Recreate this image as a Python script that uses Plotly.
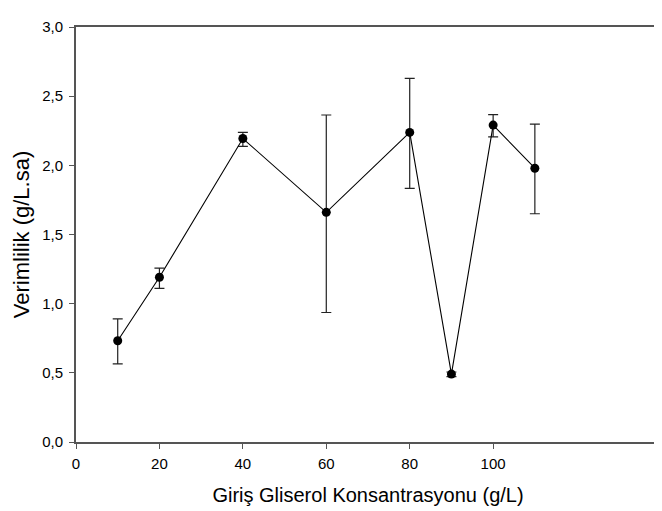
import plotly.graph_objects as go

x_vals = [10, 20, 40, 60, 80, 90, 100, 110]
y_vals = [0.732, 1.191, 2.194, 1.660, 2.238, 0.491, 2.291, 1.979]
y_upper = [0.890, 1.257, 2.238, 2.364, 2.628, 0.506, 2.366, 2.298]
y_lower = [0.565, 1.111, 2.137, 0.936, 1.834, 0.473, 2.206, 1.650]

err_plus = [u - y for u, y in zip(y_upper, y_vals)]
err_minus = [y - l for l, y in zip(y_lower, y_vals)]

x_ticks = [0, 20, 40, 60, 80, 100]
y_ticks = [0.0, 0.5, 1.0, 1.5, 2.0, 2.5, 3.0]

fig = go.Figure()
fig.add_trace(go.Scatter(
    x=x_vals, y=y_vals,
    mode="lines+markers",
    line=dict(color="black", width=1.1),
    marker=dict(color="black", size=9, symbol="circle"),
    error_y=dict(type="data", symmetric=False, array=err_plus, arrayminus=err_minus,
                 color="#222222", thickness=1.2, width=5),
    showlegend=False,
))

axis_color = "#555555"
fig.update_layout(
    width=662, height=511,
    margin=dict(l=68, r=10, t=10, b=77, pad=0),
    paper_bgcolor="white", plot_bgcolor="white",
    font=dict(family="Liberation Sans, Arial, sans-serif", size=15, color="black"),
    separators=",.",
    xaxis=dict(
        range=[0, 140], tickvals=x_ticks, showgrid=False, zeroline=False,
        showline=True, linecolor=axis_color, linewidth=2, mirror=True,
        ticks="outside", ticklen=5, tickcolor=axis_color, tickwidth=1.3,
        ticklabelstandoff=2,
        title=dict(text="Giriş Gliserol Konsantrasyonu (g/L)", font=dict(size=20), standoff=17),
    ),
    yaxis=dict(
        range=[0, 3.0], tickvals=y_ticks, tickformat=".1f", showgrid=False, zeroline=False,
        showline=True, linecolor=axis_color, linewidth=2, mirror=False,
        ticks="outside", ticklen=5, tickcolor=axis_color, tickwidth=1.3,
        ticklabelstandoff=3,
        title=dict(text="Verimlilik (g/L.sa)", font=dict(size=22), standoff=6),
    ),
)

fig.write_html("out.html")
